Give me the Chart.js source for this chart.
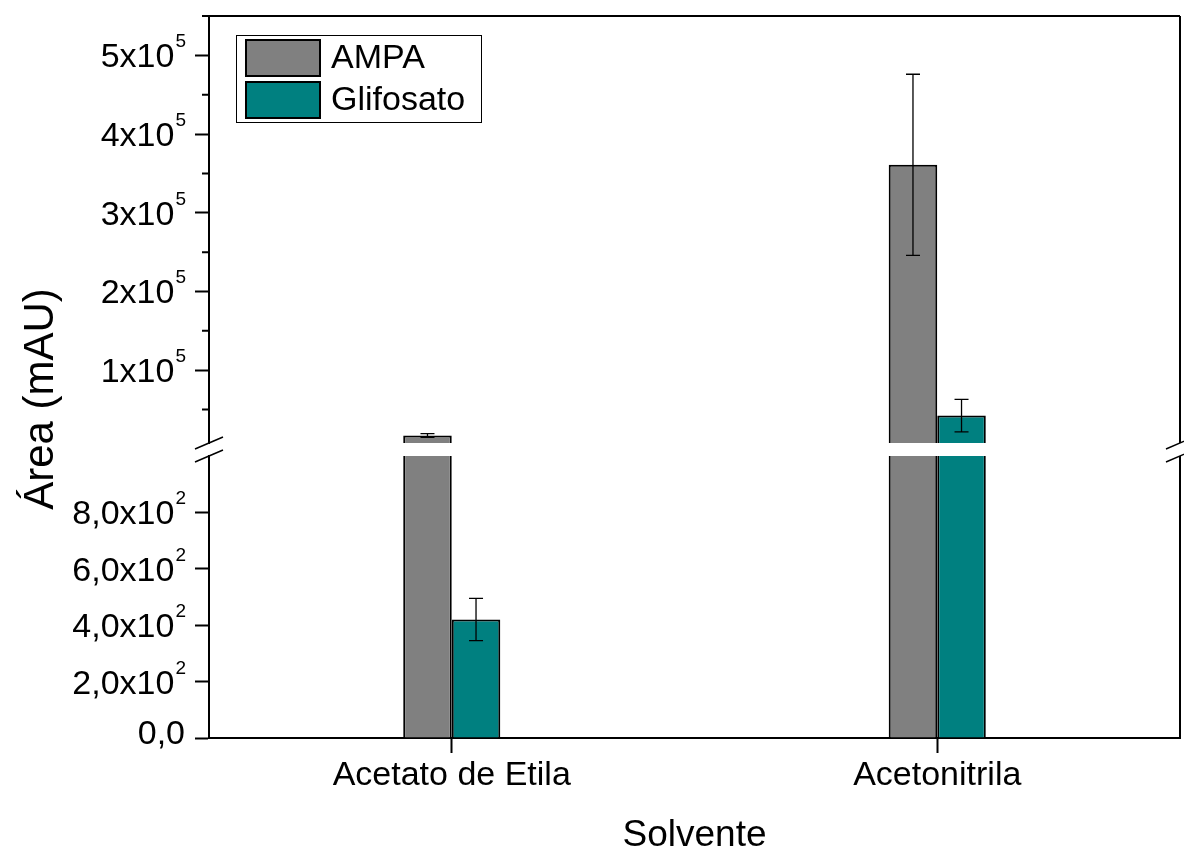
<!DOCTYPE html>
<html>
<head>
<meta charset="utf-8">
<script src="https://cdn.jsdelivr.net/npm/chart.js@4.4.1/dist/chart.umd.min.js"></script>
<style>
	html, body { margin: 0; padding: 0; background: #fff; }
	.chart-wrap { width: 1184px; height: 854px; }
</style>
</head>
<body>
<div class="chart-wrap"><canvas class="chart-bar"></canvas></div>
<script>
// data
const categories = ['Acetato de Etila', 'Acetonitrila'];
const seriesNames = ['AMPA', 'Glifosato'];
const ampaValues = [17000, 361000];
const ampaErrors = [2300, 115000];
const glifValues = [420, 42300];
const glifErrors = [75, 20600];

// broken y axis: lower part and upper part
const lowRange = [0, 1000];
const highRange = [7500, 550000];
const lowTicks = [0, 200, 400, 600, 800];
const lowTickLabels = ['0,0', '2,0x10^2', '4,0x10^2', '6,0x10^2', '8,0x10^2'];
const highTicks = [100000, 200000, 300000, 400000, 500000];
const highTickLabels = ['1x10^5', '2x10^5', '3x10^5', '4x10^5', '5x10^5'];
const highMinorTicks = [50000, 150000, 250000, 350000, 450000, 550000];

const colors = ['#808080', '#008080'];
const allValues = [ampaValues, glifValues];
const allErrors = [ampaErrors, glifErrors];
const FONT = '"Liberation Sans", Arial, sans-serif';

// two datasets per series: one on each part of the axis
const datasets = [];
seriesNames.forEach((name, s) => {
	const vals = allValues[s];
	datasets.push({
		label: name,
		stack: name,
		yAxisID: 'y',
		data: vals.map(v => Math.min(v, lowRange[1])),
		backgroundColor: colors[s],
		borderColor: '#000',
		borderWidth: ctx => vals[ctx.dataIndex] > lowRange[1] ? {left: 2, right: 2, top: 0, bottom: 0} : 2
	});
	datasets.push({
		label: name,
		stack: name,
		yAxisID: 'yHigh',
		base: highRange[0],
		data: vals.map(v => v > lowRange[1] ? v : null),
		backgroundColor: colors[s],
		borderColor: '#000',
		borderWidth: 2
	});
});

// leave a gap between the two parts of the axis
const splitAxis = {
	id: 'splitAxis',
	afterLayout(chart) {
		const hi = chart.scales.yHigh, lo = chart.scales.y;
		const gap = 13;
		const mid = (hi.bottom + lo.top) / 2;
		hi.bottom = mid - gap / 2;
		hi.height = hi.bottom - hi.top;
		lo.top = mid + gap / 2;
		lo.height = lo.bottom - lo.top;
		hi.configure();
		lo.configure();
	}
};

const errorBars = {
	id: 'errorBars',
	afterDatasetsDraw(chart) {
		const ctx = chart.ctx;
		ctx.save();
		ctx.strokeStyle = '#000';
		ctx.lineWidth = 1.3;
		seriesNames.forEach((name, s) => {
			allValues[s].forEach((v, i) => {
				const high = v > lowRange[1];
				const scale = chart.scales[high ? 'yHigh' : 'y'];
				const bar = chart.getDatasetMeta(s * 2 + (high ? 1 : 0)).data[i];
				const err = allErrors[s][i];
				const y1 = scale.getPixelForValue(v + err);
				const y2 = scale.getPixelForValue(v - err);
				const x = bar.x, cap = 7;
				ctx.beginPath();
				ctx.moveTo(x, y1); ctx.lineTo(x, y2);
				ctx.moveTo(x - cap, y1); ctx.lineTo(x + cap, y1);
				ctx.moveTo(x - cap, y2); ctx.lineTo(x + cap, y2);
				ctx.stroke();
			});
		});
		ctx.restore();
	}
};

function drawSupLabel(ctx, text, xRight, y) {
	const parts = text.split('^');
	ctx.textAlign = 'left';
	ctx.textBaseline = 'alphabetic';
	if (parts.length === 1) {
		ctx.font = '34px ' + FONT;
		ctx.fillText(parts[0], xRight - ctx.measureText(parts[0]).width - 1, y + 6);
		return;
	}
	ctx.font = '19px ' + FONT;
	const supW = ctx.measureText(parts[1]).width;
	ctx.fillText(parts[1], xRight - supW, y - 8);
	ctx.font = '34px ' + FONT;
	const baseW = ctx.measureText(parts[0]).width;
	ctx.fillText(parts[0], xRight - supW - baseW - 1, y + 12);
}

const frameAndLabels = {
	id: 'frameAndLabels',
	afterDraw(chart) {
		const {ctx, chartArea: a} = chart;
		const hi = chart.scales.yHigh, lo = chart.scales.y;
		ctx.save();
		ctx.strokeStyle = '#000';
		ctx.fillStyle = '#000';

		// top and right frame
		ctx.lineWidth = 2;
		ctx.beginPath();
		ctx.moveTo(a.left, a.top); ctx.lineTo(a.right, a.top);
		ctx.moveTo(a.right, a.top); ctx.lineTo(a.right, hi.bottom);
		ctx.moveTo(a.right, lo.top); ctx.lineTo(a.right, a.bottom);
		ctx.stroke();

		// minor ticks
		ctx.beginPath();
		highMinorTicks.forEach(v => {
			const y = hi.getPixelForValue(v);
			ctx.moveTo(a.left - 7, y); ctx.lineTo(a.left, y);
		});
		ctx.stroke();

		// break marks
		ctx.lineWidth = 1.5;
		ctx.beginPath();
		[a.left, a.right].forEach(x => {
			[hi.bottom, lo.top].forEach(y => {
				ctx.moveTo(x - 14, y + 6); ctx.lineTo(x + 14, y - 6);
			});
		});
		ctx.stroke();

		// tick labels
		lowTicks.forEach((v, i) => drawSupLabel(ctx, lowTickLabels[i], a.left - 23, lo.getPixelForValue(v)));
		highTicks.forEach((v, i) => drawSupLabel(ctx, highTickLabels[i], a.left - 23, hi.getPixelForValue(v)));

		// y title
		ctx.save();
		ctx.translate(a.left - 168, (a.top + a.bottom) / 2 + 22);
		ctx.rotate(-Math.PI / 2);
		ctx.font = '42px ' + FONT;
		ctx.textAlign = 'center';
		ctx.textBaseline = 'middle';
		ctx.fillText('Área (mAU)', 0, 0);
		ctx.restore();

		// legend
		const lx = a.left + 27, ly = a.top + 19;
		ctx.lineWidth = 1;
		ctx.strokeRect(lx + 0.5, ly + 0.5, 245, 87);
		ctx.font = '34px ' + FONT;
		ctx.textAlign = 'left';
		ctx.textBaseline = 'middle';
		seriesNames.forEach((name, s) => {
			const sy = ly + 5 + s * 42;
			ctx.fillStyle = colors[s];
			ctx.fillRect(lx + 10, sy, 74, 36);
			ctx.lineWidth = 2;
			ctx.strokeRect(lx + 10, sy, 74, 36);
			ctx.fillStyle = '#000';
			ctx.fillText(name, lx + 95, sy + 19);
		});
		ctx.restore();
	}
};

document.addEventListener('DOMContentLoaded', () => {
	Chart.defaults.font.family = FONT;
	Chart.defaults.color = '#000';

	const chartBar = document.querySelector('.chart-bar');

	new Chart(chartBar, {
		type: 'bar',
		data: {
			labels: categories,
			datasets: datasets
		},
		options: {
			responsive: true,
			maintainAspectRatio: false,
			animation: false,
			categoryPercentage: 0.2,
			barPercentage: 1,
			layout: {
				padding: {left: 195, top: 16, right: 4, bottom: 0}
			},
			scales: {
				x: {
					grid: {offset: false, drawOnChartArea: false, tickLength: 15, tickWidth: 2, color: '#000'},
					border: {color: '#000', width: 2},
					ticks: {font: {size: 34}, padding: 2},
					title: {display: true, text: 'Solvente', font: {size: 37}, padding: {top: 0, bottom: -4}},
					afterFit: s => { s.height = 116; }
				},
				y: {
					type: 'linear',
					position: 'left',
					stack: 'v',
					stackWeight: 288.5,
					stacked: false,
					min: lowRange[0],
					max: lowRange[1],
					afterBuildTicks: s => { s.ticks = lowTicks.map(v => ({value: v})); },
					ticks: {display: false},
					grid: {drawOnChartArea: false, tickLength: 14, tickWidth: 2, color: '#000'},
					border: {color: '#000', width: 2}
				},
				yHigh: {
					type: 'linear',
					position: 'left',
					stack: 'v',
					stackWeight: 433.5,
					stacked: false,
					beginAtZero: false,
					min: highRange[0],
					max: highRange[1],
					afterBuildTicks: s => { s.ticks = highTicks.map(v => ({value: v})); },
					ticks: {display: false},
					grid: {drawOnChartArea: false, tickLength: 14, tickWidth: 2, color: '#000'},
					border: {color: '#000', width: 2}
				}
			},
			plugins: {
				legend: false,
				tooltip: false
			}
		},
		plugins: [splitAxis, errorBars, frameAndLabels]
	});
});
</script>
</body>
</html>
